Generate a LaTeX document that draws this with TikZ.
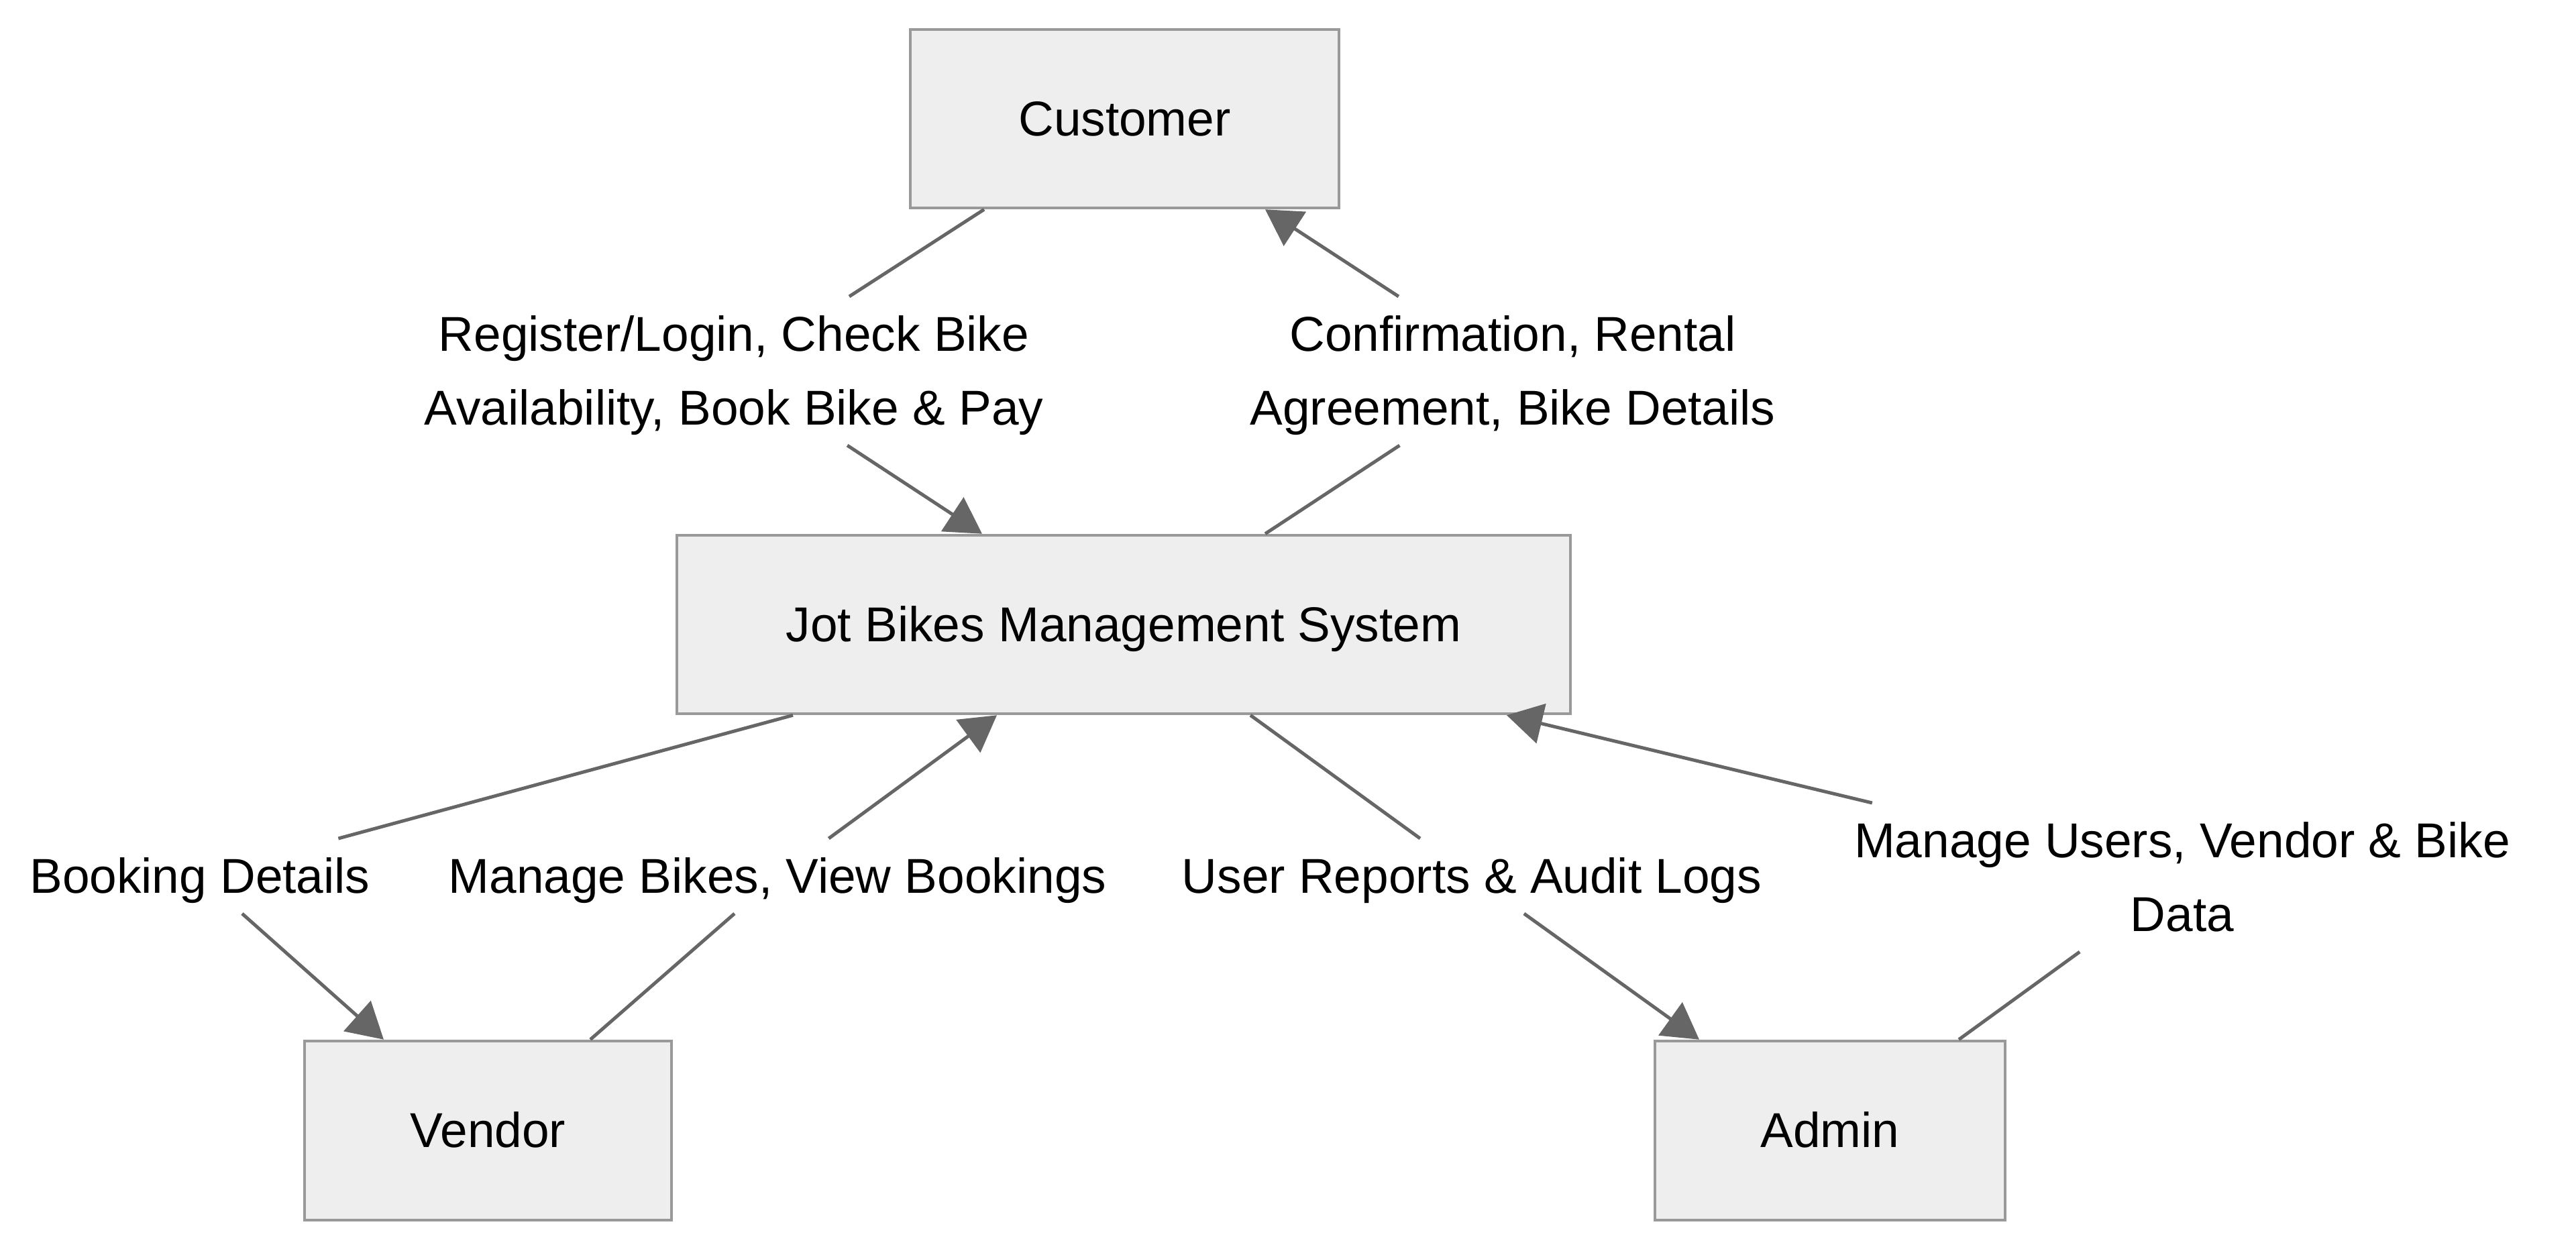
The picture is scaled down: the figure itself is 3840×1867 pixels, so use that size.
\documentclass[tikz,border=0pt]{standalone}
\usepackage{fontspec}
\setmainfont{Liberation Sans}
\usetikzlibrary{arrows.meta,calc}
\definecolor{boxfill}{HTML}{EEEEEE}
\definecolor{boxline}{HTML}{999999}
\definecolor{edgecol}{HTML}{666666}
\newcommand\lstrut{\rule[-6pt]{0pt}{22pt}}
\begin{document}
\begin{tikzpicture}[x=0.2pt,y=-0.2pt,
  box/.style={draw=boxline, fill=boxfill, line width=0.9pt, minimum height=53.2pt, inner sep=0pt, font=\fontsize{14.6pt}{22pt}\selectfont},
  elabel/.style={inner sep=0pt, align=center, font=\fontsize{14.6pt}{22pt}\selectfont},
  flow/.style={draw=edgecol, line width=1pt, -{Triangle[length=10.6pt,width=12pt]}}]
\useasboundingbox (0,0) rectangle (3840,1867);

% nodes
\node[box, minimum width=127.8pt] (cust) at (1676.5,177) {\lstrut Customer};
\node[box, minimum width=266.4pt] (sys) at (1675,931) {\lstrut Jot Bikes Management System};
\node[box, minimum width=109.4pt, minimum height=53.4pt] (vendor) at (727.5,1685.5) {\lstrut Vendor};
\node[box, minimum width=104.4pt, minimum height=53.4pt] (admin) at (2728,1685.5) {\lstrut Admin};

% edge labels
\node[elabel] (l1) at (1094,553) {\lstrut Register/Login, Check Bike\\\lstrut Availability, Book Bike \& Pay};
\node[elabel] (l2) at (2255,553) {\lstrut Confirmation, Rental\\\lstrut Agreement, Bike Details};
\node[elabel] (l3) at (298,1306) {\lstrut Booking Details};
\node[elabel] (l4) at (1159,1306) {\lstrut Manage Bikes, View Bookings};
\node[elabel] (l5) at (2194,1306) {\lstrut User Reports \& Audit Logs};
\node[elabel] (l6) at (3253,1308) {\lstrut Manage Users, Vendor \& Bike\\\lstrut Data};

% connectors
\draw[flow] ($(cust.south)+(-209.5,0)$) -- (l1) -- ($(sys.north)+(-211,0)$);
\draw[flow] ($(sys.north)+(211,0)$) -- (l2) -- ($(cust.south)+(209.5,0)$);
\draw[flow] ($(sys.south)+(-493,0)$) -- (l3) -- ($(vendor.north)+(-155.5,0)$);
\draw[flow] ($(vendor.north)+(152.5,0)$) -- (l4) -- ($(sys.south)+(-189,0)$);
\draw[flow] ($(sys.south)+(189,0)$) -- (l5) -- ($(admin.north)+(-195,0)$);
\draw[flow] ($(admin.north)+(192,0)$) -- (l6) -- ($(sys.south)+(571,0)$);
\end{tikzpicture}
\end{document}
